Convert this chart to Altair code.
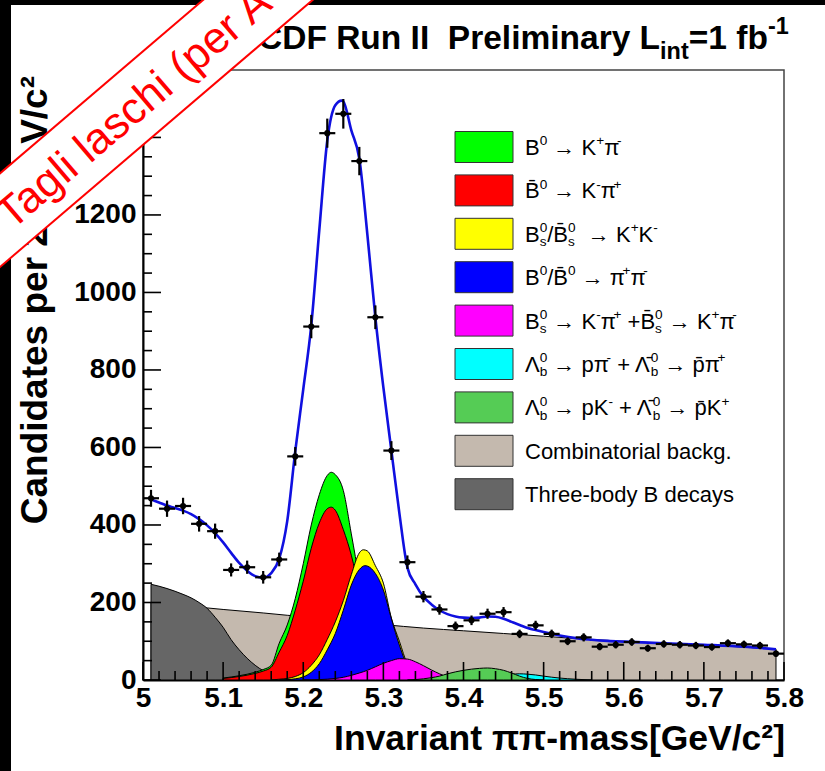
import altair as alt
import pandas as pd

# ---------------- values ----------------
bin_mass = [5.01, 5.03, 5.05, 5.07, 5.09, 5.11, 5.13, 5.15, 5.17, 5.19,
            5.21, 5.23, 5.25, 5.27, 5.29, 5.31, 5.33, 5.35, 5.37, 5.39,
            5.41, 5.43, 5.45, 5.47, 5.49, 5.51, 5.53, 5.55, 5.57, 5.59,
            5.61, 5.63, 5.65, 5.67, 5.69, 5.71, 5.73, 5.75, 5.77, 5.79]
bin_counts = [469, 442, 449, 403, 384, 284, 291, 265, 311, 577,
              912, 1411, 1461, 1339, 936, 592, 304, 215, 182, 139,
              154, 171, 175, 119, 141, 119, 100, 110, 86, 91,
              98, 82, 93, 91, 89, 85, 95, 92, 89, 68]

fit_mass = [5.01, 5.02, 5.03, 5.04, 5.05, 5.06, 5.07, 5.08, 5.09, 5.10,
            5.11, 5.12, 5.13, 5.14, 5.15, 5.16, 5.17, 5.18, 5.19, 5.20,
            5.21, 5.22, 5.23, 5.24, 5.248, 5.25, 5.26, 5.27, 5.28, 5.29,
            5.30, 5.31, 5.32, 5.33, 5.34, 5.35, 5.36, 5.37, 5.38, 5.39,
            5.40, 5.41, 5.42, 5.43, 5.44, 5.45, 5.46, 5.47, 5.48, 5.49,
            5.50, 5.52, 5.54, 5.56, 5.58, 5.60, 5.65, 5.70, 5.75, 5.79]
fit_vals = [466, 458, 450, 444, 437, 428, 415, 399, 379, 355,
            328, 302, 282, 268, 264, 276, 313, 410, 590, 750,
            915, 1160, 1392, 1483, 1495, 1493, 1418, 1345, 1150, 936,
            755, 592, 430, 290, 247, 215, 195, 180, 170, 164,
            161, 160, 161, 164, 163, 158, 150, 142, 134, 129,
            124, 115, 108, 104, 101, 99, 95, 91, 86, 79]

comb_mass = [5.01, 5.05, 5.08, 5.10, 5.15, 5.18, 5.20, 5.25, 5.30, 5.35,
             5.40, 5.45, 5.50, 5.555, 5.60, 5.65, 5.70, 5.75, 5.79]
comb_vals = [199, 191, 186, 182, 173, 167, 164, 153, 143, 134,
             127, 120, 113, 105, 100, 95, 90, 85, 80]

three_mass = [5.01, 5.02, 5.03, 5.04, 5.05, 5.06, 5.07, 5.08, 5.09, 5.10,
              5.11, 5.12, 5.13, 5.14, 5.15, 5.16, 5.17, 5.18, 5.20]
three_vals = [247, 242, 236, 229, 221, 212, 200, 185, 162, 136,
              104, 78, 56, 38, 24, 14, 7, 3, 0]

kpi_mass = [5.10, 5.12, 5.14, 5.15, 5.16, 5.17, 5.18, 5.19, 5.20, 5.21, 5.22, 5.23,
            5.235, 5.24, 5.25, 5.26, 5.27, 5.28, 5.29, 5.30, 5.31, 5.32, 5.34, 5.36]
kpi_vals = [5, 11, 20, 27, 38, 95, 142, 210, 300, 400, 478, 528,
            536, 530, 489, 377, 262, 165, 95, 50, 25, 11, 3, 0]
kbpi_vals = [4, 9, 17, 23, 33, 72, 115, 180, 255, 340, 405, 442,
             446, 438, 388, 322, 232, 150, 88, 46, 22, 10, 2, 0]

kk_mass = [5.16, 5.17, 5.18, 5.19, 5.20, 5.21, 5.22, 5.23, 5.24, 5.25, 5.26,
           5.27, 5.275, 5.28, 5.29, 5.30, 5.31, 5.32, 5.33, 5.34, 5.35, 5.36]
kk_vals = [0, 2, 4, 9, 19, 38, 65, 105, 150, 205, 272,
           328, 336, 333, 295, 250, 160, 100, 40, 10, 2, 0]

pipi_mass = [5.17, 5.18, 5.19, 5.20, 5.21, 5.22, 5.23, 5.24, 5.25, 5.26, 5.27,
             5.277, 5.28, 5.29, 5.30, 5.31, 5.32, 5.33, 5.34, 5.35, 5.36]
pipi_vals = [0, 1, 3, 8, 20, 42, 78, 120, 180, 245, 285,
             295, 294, 275, 232, 158, 90, 35, 6, 1, 0]

bs_mass = [5.20, 5.22, 5.24, 5.25, 5.26, 5.27, 5.28, 5.29, 5.30, 5.31,
           5.32, 5.33, 5.34, 5.35, 5.36, 5.37, 5.38, 5.39, 5.40]
bs_vals = [0, 1, 4, 7, 12, 18, 25, 34, 43, 50,
           55, 54, 47, 37, 26, 16, 8, 3, 0]

lbpi_mass = [5.38, 5.40, 5.42, 5.44, 5.46, 5.47, 5.48, 5.49, 5.50, 5.52, 5.54, 5.56]
lbpi_vals = [0, 2, 6, 11, 15, 16, 15, 13, 10, 5, 2, 0]

lbk_mass = [5.33, 5.35, 5.36, 5.37, 5.38, 5.39, 5.40, 5.41, 5.42, 5.43,
            5.44, 5.45, 5.46, 5.47, 5.48, 5.50]
lbk_vals = [0, 3, 6, 10, 16, 21, 25, 28, 30, 31, 29, 25, 18, 10, 4, 0]

x_major = [5.0, 5.1, 5.2, 5.3, 5.4, 5.5, 5.6, 5.7, 5.8]
y_major = [0, 200, 400, 600, 800, 1000, 1200, 1400]

# ---------------- layout / style ----------------
FONT = "Liberation Sans"
W, H = 641, 610
PL, PT, PR, PB = 143, 70, 41, 91
YMAX = 1574
xscale = alt.Scale(domain=[5.0, 5.8], nice=False, zero=False)
yscale = alt.Scale(domain=[0, YMAX], nice=False, zero=True)

C_KPI = "#00ff00"
C_KBPI = "#ff0000"
C_KK = "#ffff00"
C_PIPI = "#0000ff"
C_BS = "#ff00ff"
C_LBPI = "#00ffff"
C_LBK = "#55cc55"
C_COMB = "#c4b9ae"
C_3B = "#666666"

x_minor = [round(5.0 + 0.02 * i, 2) for i in range(41) if i % 5]
y_minor = [v for v in range(0, YMAX, 50) if v % 200]

axis_common = dict(ticks=False, grid=False, domain=True, domainColor="black", domainWidth=2,
                   labelFont=FONT, labelFontWeight="bold", labelFontSize=28, labelColor="black",
                   labelFlush=False, labelOverlap=False, labelBound=False, title=None, zindex=0)
XAX = alt.Axis(values=x_major, format="~g", labelPadding=4, **axis_common)
YAX = alt.Axis(values=y_major, format="d", labelPadding=7, **axis_common)


def xq(f):
    return alt.X(f, type="quantitative", scale=xscale, axis=XAX)


def yq(f):
    return alt.Y(f, type="quantitative", scale=yscale, axis=YAX)


def area(m, v, color):
    df = pd.DataFrame({"m": m, "v": v})
    return alt.Chart(df).mark_area(
        fill=color, stroke="black", strokeWidth=1, interpolate="monotone", fillOpacity=1
    ).encode(x=xq("m"), y=yq("v"))


layers = [
    area(comb_mass, comb_vals, C_COMB),
    area(three_mass, three_vals, C_3B),
    area(kpi_mass, kpi_vals, C_KPI),
    area(kpi_mass, kbpi_vals, C_KBPI),
    area(kk_mass, kk_vals, C_KK),
    area(pipi_mass, pipi_vals, C_PIPI),
    area(bs_mass, bs_vals, C_BS),
    area(lbpi_mass, lbpi_vals, C_LBPI),
    area(lbk_mass, lbk_vals, C_LBK),
]

# fit line
fit_df = pd.DataFrame({"m": fit_mass, "v": fit_vals})
layers.append(alt.Chart(fit_df).mark_line(color="#1010e0", strokeWidth=2.6, interpolate="monotone").encode(
    x=xq("m"), y=yq("v")))

# data points with error bars
pts = pd.DataFrame({"m": bin_mass, "n": bin_counts})
pbase = alt.Chart(pts).transform_calculate(
    lo="datum.n - sqrt(datum.n)", hi="datum.n + sqrt(datum.n)",
    ml="datum.m - 0.01", mh="datum.m + 0.01")
layers.append(pbase.mark_rule(color="black", strokeWidth=2.2).encode(
    x=xq("m"), y=yq("lo"), y2="hi:Q"))
layers.append(pbase.mark_rule(color="black", strokeWidth=2.2).encode(
    x=xq("ml"), x2="mh:Q", y=yq("n")))
layers.append(alt.Chart(pts).mark_circle(color="black", size=38, opacity=1).encode(
    x=xq("m"), y=yq("n")))

# inward ticks
layers.append(alt.Chart(pd.DataFrame({"v": y_major})).mark_rule(color="black", strokeWidth=1.6).encode(
    y=yq("v"), x=alt.value(0), x2=alt.value(18)))
layers.append(alt.Chart(pd.DataFrame({"v": y_minor})).mark_rule(color="black", strokeWidth=1.6).encode(
    y=yq("v"), x=alt.value(0), x2=alt.value(9)))
layers.append(alt.Chart(pd.DataFrame({"m": x_major})).mark_rule(color="black", strokeWidth=1.6).encode(
    x=xq("m"), y=alt.value(H), y2=alt.value(H - 18)))
layers.append(alt.Chart(pd.DataFrame({"m": x_minor})).mark_rule(color="black", strokeWidth=1.6).encode(
    x=xq("m"), y=alt.value(H), y2=alt.value(H - 9)))

# ---------------- text with super/subscripts ----------------
REG = {" ": .278, "B": .667, "K": .667, "C": .722, "T": .611, "\u039b": .667, "\u03c0": .58,
       "\u2192": 1.0, "+": .584, "-": .333, "/": .278, "0": .556, ".": .278, "p": .556,
       "a": .556, "b": .556, "c": .5, "d": .556, "e": .556, "g": .556, "h": .556, "i": .222,
       "k": .5, "l": .222, "m": .833, "n": .556, "o": .556, "r": .333, "s": .5, "t": .278, "y": .5}
BOLD = {" ": .278, "\u00a0": .278, "C": .722, "D": .722, "F": .611, "R": .722, "u": .611, "n": .611,
        "I": .278, "P": .667, "r": .389, "e": .556, "l": .278, "i": .278, "m": .889, "a": .556,
        "y": .556, "L": .611, "t": .333, "=": .584, "1": .556, "f": .333, "b": .611, "-": .333}


def tw(s, table):
    return sum(table.get(ch, .556) for ch in s if not ("\u0300" <= ch <= "\u036f"))


def put(out, x, y, s, size, table):
    """place a text piece; SVG drops leading/trailing blanks, so advance for them here"""
    lead = len(s) - len(s.lstrip(" "))
    core = s.strip(" ")
    trail = len(s) - len(s.rstrip(" ")) if core else 0
    x += lead * table[" "] * size
    if core:
        out.append(dict(px=x, py=y, t=core, fs=size))
    x += tw(core, table) * size + trail * table[" "] * size
    return x


def layout(segs, x0, yb, fs, table, sup_raise=0.45, sub_drop=0.2, rel=0.62):
    out = []
    x = x0
    for seg in segs:
        kind = seg[0]
        s = rel * fs
        if kind == "n":
            x = put(out, x, yb, seg[1], fs, table)
        elif kind == "sup":
            x = put(out, x, yb - sup_raise * fs, seg[1], s, table)
        elif kind == "sub":
            x = put(out, x, yb + sub_drop * fs, seg[1], s, table)
        else:  # stacked sup + sub
            x1 = put(out, x, yb - sup_raise * fs, seg[1], s, table)
            x2 = put(out, x, yb + sub_drop * fs, seg[2], s, table)
            x = max(x1, x2)
    return out


BB = "B\u0304"
LB = "\u039b\u0304"
PB_ = "p\u0304"
ARR = " \u2192 "
legend_labels = [
    [("n", "B"), ("sup", "0"), ("n", ARR + "K"), ("sup", "+"), ("n", "\u03c0"), ("sup", "-")],
    [("n", BB), ("sup", "0"), ("n", ARR + "K"), ("sup", "-"), ("n", "\u03c0"), ("sup", "+")],
    [("n", "B"), ("ss", "0", "s"), ("n", "/" + BB), ("ss", "0", "s"), ("n", " " + ARR + "K"), ("sup", "+"),
     ("n", "K"), ("sup", "-")],
    [("n", "B"), ("sup", "0"), ("n", "/" + BB), ("sup", "0"), ("n", ARR + "\u03c0"), ("sup", "+"),
     ("n", "\u03c0"), ("sup", "-")],
    [("n", "B"), ("ss", "0", "s"), ("n", ARR + "K"), ("sup", "-"), ("n", "\u03c0"), ("sup", "+"),
     ("n", " +" + BB), ("ss", "0", "s"), ("n", ARR + "K"), ("sup", "+"), ("n", "\u03c0"), ("sup", "-")],
    [("n", "\u039b"), ("ss", "0", "b"), ("n", ARR + "p\u03c0"), ("sup", "-"), ("n", " + " + LB),
     ("ss", "0", "b"), ("n", ARR + PB_ + "\u03c0"), ("sup", "+")],
    [("n", "\u039b"), ("ss", "0", "b"), ("n", ARR + "pK"), ("sup", "-"), ("n", " + " + LB),
     ("ss", "0", "b"), ("n", ARR + PB_ + "K"), ("sup", "+")],
    [("n", "Combinatorial backg.")],
    [("n", "Three-body B decays")],
]
legend_colors = [C_KPI, C_KBPI, C_KK, C_PIPI, C_BS, C_LBPI, C_LBK, C_COMB, C_3B]

LEG_X0, LEG_X1 = 455 - PL, 513 - PL
LEG_TX = 525 - PL
LEG_Y0, LEG_DY = 147 - PT, 43.4
LEG_FS = 22

rects = []
texts = []
for i, (segs, col) in enumerate(zip(legend_labels, legend_colors)):
    cy = LEG_Y0 + LEG_DY * i
    rects.append(dict(x1=LEG_X0, x2=LEG_X1, y1=cy - 15.5, y2=cy + 15.5, c=col))
    texts += layout(segs, LEG_TX, cy + 8, LEG_FS, REG)

layers.append(alt.Chart(pd.DataFrame(rects)).mark_rect(stroke="#333333", strokeWidth=1).encode(
    x=alt.X("x1:Q", scale=None), x2="x2:Q", y=alt.Y("y1:Q", scale=None), y2="y2:Q",
    fill=alt.Fill("c:N", scale=None)))
layers.append(alt.Chart(pd.DataFrame(texts)).mark_text(
    align="left", baseline="alphabetic", font=FONT, color="black").encode(
    x=alt.X("px:Q", scale=None), y=alt.Y("py:Q", scale=None), text="t:N", size=alt.Size("fs:Q", scale=None)))

# title
title_segs = [("n", "CDF Run II\u00a0 Preliminary L"), ("sub", "int"), ("n", "=1 fb"), ("sup", "-1")]
title_rows = layout(title_segs, 258 - PL, 49 - PT, 33.5, BOLD, sup_raise=0.45, sub_drop=0.3, rel=0.7)
layers.append(alt.Chart(pd.DataFrame(title_rows)).mark_text(
    align="left", baseline="alphabetic", font=FONT, fontWeight="bold", color="black").encode(
    x=alt.X("px:Q", scale=None), y=alt.Y("py:Q", scale=None), text="t:N", size=alt.Size("fs:Q", scale=None)))

dummy = pd.DataFrame({"a": [0]})
# axis titles
layers.append(alt.Chart(dummy).mark_text(
    text="Invariant \u03c0\u03c0-mass[GeV/c\u00b2]", align="right", baseline="alphabetic",
    font=FONT, fontWeight="bold", fontSize=35.5, color="black").encode(
    x=alt.value(785 - PL), y=alt.value(750 - PT)))
layers.append(alt.Chart(dummy).mark_text(
    text="Candidates per 20 MeV/c\u00b2", align="right", baseline="alphabetic", angle=270,
    font=FONT, fontWeight="bold", fontSize=37, color="black").encode(
    x=alt.value(47 - PL), y=alt.value(76 - PT)))

# black borders of the scanned picture
layers.append(alt.Chart(dummy).mark_rect(color="black").encode(
    x=alt.value(-PL), x2=alt.value(11 - PL), y=alt.value(-PT), y2=alt.value(771 - PT)))
layers.append(alt.Chart(dummy).mark_rect(color="black").encode(
    x=alt.value(-PL), x2=alt.value(825 - PL), y=alt.value(-PT), y2=alt.value(5 - PT)))

# diagonal watermark ribbon
dx, dy = 0.760, -0.649
nx, ny = 0.649, 0.760
cx0, cy0 = 0.0, 220.2
t0, t1 = -90, 460
half = 35.6


def seg_pts(off):
    ax = cx0 + dx * t0 + nx * off - PL
    ay = cy0 + dy * t0 + ny * off - PT
    bx = cx0 + dx * t1 + nx * off - PL
    by = cy0 + dy * t1 + ny * off - PT
    return ax, ay, bx, by


ax, ay, bx, by = seg_pts(0)
layers.append(alt.Chart(dummy).mark_rule(color="white", strokeWidth=2 * half, strokeCap="butt").encode(
    x=alt.value(ax), y=alt.value(ay), x2=alt.value(bx), y2=alt.value(by)))
for off in (-half, half):
    ax, ay, bx, by = seg_pts(off)
    layers.append(alt.Chart(dummy).mark_rule(color="#ff0000", strokeWidth=2).encode(
        x=alt.value(ax), y=alt.value(ay), x2=alt.value(bx), y2=alt.value(by)))

ts = 2.0
tx = cx0 + dx * ts + nx * 15.8 - PL
ty = cy0 + dy * ts + ny * 15.8 - PT
layers.append(alt.Chart(dummy).mark_text(
    text="Tagli laschi (per A", align="left", baseline="alphabetic", angle=319.5,
    font=FONT, fontSize=44, color="#ff0000").encode(x=alt.value(tx), y=alt.value(ty)))

chart = alt.layer(*layers).properties(
    width=W, height=H,
    padding={"left": PL, "top": PT, "right": PR, "bottom": PB},
    autosize=alt.AutoSizeParams(type="none"),
    background="white",
).configure_view(stroke="#444444", strokeWidth=1.5)

chart.save("out.html", embed_options={"renderer": "svg", "actions": False})
